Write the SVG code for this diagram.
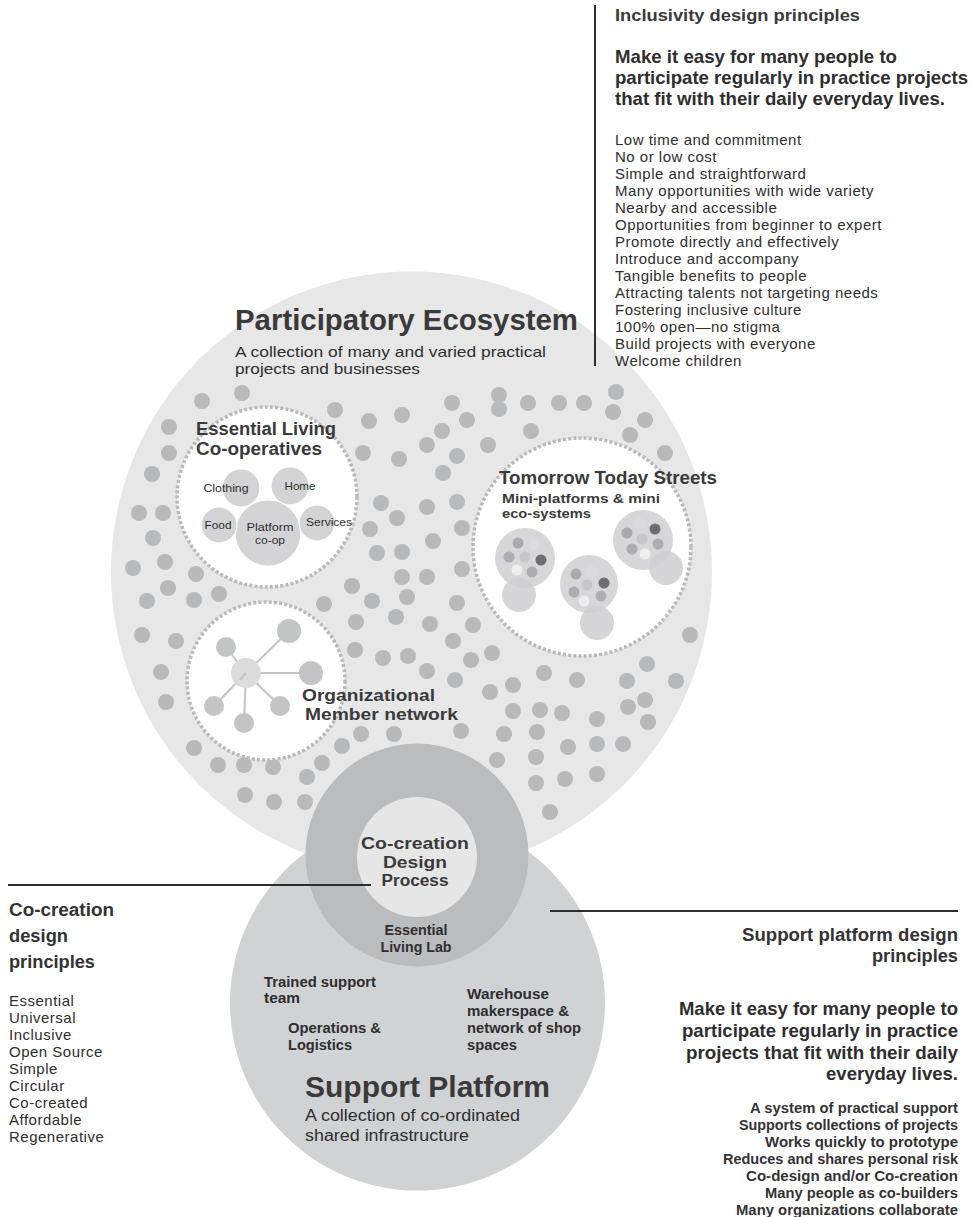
<svg xmlns="http://www.w3.org/2000/svg" width="972" height="1217" viewBox="0 0 972 1217">
  <style>
    .side { font-family: "Liberation Sans", Arial, sans-serif; fill: #2e2e2e; }
    .list { font-size: 15px; letter-spacing: 0.5px; }
    .lbl { font-family: "Liberation Sans", Arial, sans-serif; font-weight: bold; fill: #3a3a3a; }
    .dot { fill: #b8b9bb; }
    .zone { fill: #ffffff; stroke: #b8b9bb; stroke-width: 3.5; stroke-dasharray: 3 2.2; }
    .sub { fill: #d4d4d6; stroke: #ffffff; stroke-width: 1.2; }
    .bead { fill: #d7d7d9; }
    .bead2 { fill: #cfcfd1; fill-opacity: 0.85; }
    .rule { stroke: #2e2e2e; stroke-width: 2; fill: none; }
    .spoke { stroke: #c3c4c6; stroke-width: 2; }
    .mem { fill: #c3c4c6; }
  </style>

  <!-- outer ecosystem disc -->
  <g id="ecosystem">
    <circle cx="411.5" cy="572" r="300.5" fill="#e7e7e8"/>
    <text class="lbl" x="235" y="330" font-size="30" textLength="343" lengthAdjust="spacingAndGlyphs">Participatory Ecosystem</text>
    <text class="side" x="235" y="357" font-size="15" fill="#3a3a3a" textLength="311" lengthAdjust="spacingAndGlyphs">A collection of many and varied practical</text>
    <text class="side" x="235" y="374" font-size="15" fill="#3a3a3a" textLength="185" lengthAdjust="spacingAndGlyphs">projects and businesses</text>
  </g>

  <!-- scattered project dots -->
  <g id="project-dots">
    <circle class="dot" cx="202" cy="401" r="8"/><circle class="dot" cx="242" cy="393" r="8"/>
    <circle class="dot" cx="335" cy="410" r="8"/><circle class="dot" cx="369" cy="421" r="8"/>
    <circle class="dot" cx="169" cy="427" r="8"/><circle class="dot" cx="169" cy="453" r="8"/>
    <circle class="dot" cx="363" cy="453" r="8"/><circle class="dot" cx="152" cy="474" r="8"/>
    <circle class="dot" cx="139" cy="513" r="8"/><circle class="dot" cx="163" cy="513" r="8"/>
    <circle class="dot" cx="153" cy="538" r="8"/><circle class="dot" cx="381" cy="503" r="8"/>
    <circle class="dot" cx="370" cy="529" r="8"/><circle class="dot" cx="377" cy="553" r="8"/>
    <circle class="dot" cx="133" cy="568" r="8"/><circle class="dot" cx="165" cy="562" r="8"/>
    <circle class="dot" cx="196" cy="574" r="8"/><circle class="dot" cx="168" cy="588" r="8"/>
    <circle class="dot" cx="147" cy="601" r="8"/><circle class="dot" cx="194" cy="600" r="8"/>
    <circle class="dot" cx="219" cy="594" r="8"/><circle class="dot" cx="352" cy="586" r="8"/>
    <circle class="dot" cx="372" cy="601" r="8"/><circle class="dot" cx="324" cy="604" r="8"/>
    <circle class="dot" cx="356" cy="622" r="8"/><circle class="dot" cx="355" cy="650" r="8"/>
    <circle class="dot" cx="383" cy="658" r="8"/><circle class="dot" cx="142" cy="635" r="8"/>
    <circle class="dot" cx="176" cy="641" r="8"/><circle class="dot" cx="161" cy="672" r="8"/>
    <circle class="dot" cx="166" cy="702" r="8"/><circle class="dot" cx="194" cy="748" r="8"/>
    <circle class="dot" cx="218" cy="765" r="8"/><circle class="dot" cx="244" cy="765" r="8"/>
    <circle class="dot" cx="273" cy="767" r="8"/><circle class="dot" cx="307" cy="777" r="8"/>
    <circle class="dot" cx="322" cy="763" r="8"/><circle class="dot" cx="342" cy="746" r="8"/>
    <circle class="dot" cx="361" cy="734" r="8"/><circle class="dot" cx="394" cy="734" r="8"/>
    <circle class="dot" cx="245" cy="795" r="8"/><circle class="dot" cx="274" cy="802" r="8"/>
    <circle class="dot" cx="305" cy="802" r="8"/>
    <circle class="dot" cx="402" cy="415" r="8"/><circle class="dot" cx="452" cy="403" r="8"/>
    <circle class="dot" cx="499" cy="395" r="8"/><circle class="dot" cx="499" cy="409" r="8"/>
    <circle class="dot" cx="528" cy="403" r="8"/><circle class="dot" cx="559" cy="403" r="8"/>
    <circle class="dot" cx="584" cy="403" r="8"/><circle class="dot" cx="616" cy="392" r="8"/>
    <circle class="dot" cx="613" cy="412" r="8"/><circle class="dot" cx="645" cy="420" r="8"/>
    <circle class="dot" cx="630" cy="435" r="8"/><circle class="dot" cx="665" cy="453" r="8"/>
    <circle class="dot" cx="442" cy="431" r="8"/><circle class="dot" cx="467" cy="420" r="8"/>
    <circle class="dot" cx="427" cy="445" r="8"/><circle class="dot" cx="488" cy="445" r="8"/>
    <circle class="dot" cx="531" cy="431" r="8"/><circle class="dot" cx="399" cy="459" r="8"/>
    <circle class="dot" cx="457" cy="456" r="8"/><circle class="dot" cx="443" cy="473" r="8"/>
    <circle class="dot" cx="427" cy="507" r="8"/><circle class="dot" cx="457" cy="502" r="8"/>
    <circle class="dot" cx="397" cy="518" r="8"/><circle class="dot" cx="462" cy="528" r="8"/>
    <circle class="dot" cx="433" cy="541" r="8"/><circle class="dot" cx="402" cy="552" r="8"/>
    <circle class="dot" cx="462" cy="569" r="8"/><circle class="dot" cx="402" cy="577" r="8"/>
    <circle class="dot" cx="427" cy="577" r="8"/><circle class="dot" cx="407" cy="597" r="8"/>
    <circle class="dot" cx="457" cy="603" r="8"/><circle class="dot" cx="396" cy="617" r="8"/>
    <circle class="dot" cx="430" cy="624" r="8"/><circle class="dot" cx="473" cy="625" r="8"/>
    <circle class="dot" cx="453" cy="641" r="8"/><circle class="dot" cx="408" cy="656" r="8"/>
    <circle class="dot" cx="492" cy="653" r="8"/><circle class="dot" cx="471" cy="660" r="8"/>
    <circle class="dot" cx="427" cy="671" r="8"/><circle class="dot" cx="455" cy="680" r="8"/>
    <circle class="dot" cx="490" cy="692" r="8"/><circle class="dot" cx="513" cy="685" r="8"/>
    <circle class="dot" cx="544" cy="673" r="8"/><circle class="dot" cx="577" cy="680" r="8"/>
    <circle class="dot" cx="690" cy="635" r="8"/><circle class="dot" cx="647" cy="664" r="8"/>
    <circle class="dot" cx="627" cy="681" r="8"/><circle class="dot" cx="676" cy="681" r="8"/>
    <circle class="dot" cx="513" cy="711" r="8"/><circle class="dot" cx="540" cy="710" r="8"/>
    <circle class="dot" cx="562" cy="713" r="8"/><circle class="dot" cx="597" cy="719" r="8"/>
    <circle class="dot" cx="628" cy="707" r="8"/><circle class="dot" cx="645" cy="700" r="8"/>
    <circle class="dot" cx="648" cy="722" r="8"/><circle class="dot" cx="461" cy="731" r="8"/>
    <circle class="dot" cx="504" cy="734" r="8"/><circle class="dot" cx="537" cy="732" r="8"/>
    <circle class="dot" cx="568" cy="747" r="8"/><circle class="dot" cx="597" cy="744" r="8"/>
    <circle class="dot" cx="623" cy="744" r="8"/><circle class="dot" cx="497" cy="760" r="8"/>
    <circle class="dot" cx="536" cy="757" r="8"/><circle class="dot" cx="565" cy="779" r="8"/>
    <circle class="dot" cx="597" cy="774" r="8"/><circle class="dot" cx="536" cy="783" r="8"/>
    <circle class="dot" cx="550" cy="812" r="8"/>
  </g>

  <!-- Essential Living Co-operatives -->
  <g id="essential-living">
    <circle class="zone" cx="267" cy="497" r="90"/>
    <circle class="sub" cx="268" cy="533" r="33"/>
    <circle class="sub" cx="241" cy="488" r="19"/>
    <circle class="sub" cx="290" cy="486" r="19"/>
    <circle class="sub" cx="219" cy="525" r="18"/>
    <circle class="sub" cx="317" cy="523" r="18"/>
    <text class="lbl" x="196" y="435" font-size="17.5" textLength="140" lengthAdjust="spacingAndGlyphs">Essential Living</text>
    <text class="lbl" x="196" y="455" font-size="17.5" textLength="126" lengthAdjust="spacingAndGlyphs">Co-operatives</text>
    <g class="side" font-size="11" text-anchor="middle" fill="#333">
      <text x="226" y="492" textLength="45" lengthAdjust="spacingAndGlyphs">Clothing</text>
      <text x="300" y="490" textLength="31" lengthAdjust="spacingAndGlyphs">Home</text>
      <text x="218" y="529" textLength="27" lengthAdjust="spacingAndGlyphs">Food</text>
      <text x="329" y="526" textLength="46" lengthAdjust="spacingAndGlyphs">Services</text>
      <text x="270" y="531" textLength="47" lengthAdjust="spacingAndGlyphs">Platform</text>
      <text x="270" y="544" textLength="30" lengthAdjust="spacingAndGlyphs">co-op</text>
    </g>
  </g>

  <!-- Tomorrow Today Streets -->
  <g id="tomorrow-today-streets">
    <circle class="zone" cx="582" cy="547" r="109"/>
    <text class="lbl" x="499" y="484" font-size="17.5" textLength="218" lengthAdjust="spacingAndGlyphs">Tomorrow Today Streets</text>
    <text class="lbl" x="502" y="503" font-size="13.5" textLength="158" lengthAdjust="spacingAndGlyphs">Mini-platforms &amp; mini</text>
    <text class="lbl" x="502" y="518" font-size="13.5" textLength="89" lengthAdjust="spacingAndGlyphs">eco-systems</text>
    <!-- mini platform 1 -->
    <circle class="bead" cx="525" cy="558" r="30"/>
    <circle cx="518" cy="543" r="5.5" fill="#a9aaac"/><circle cx="534" cy="545" r="5.5" fill="#dcdcdd"/>
    <circle cx="509" cy="557" r="5.5" fill="#adaeb0"/><circle cx="525" cy="557" r="5.5" fill="#c6c6c8"/>
    <circle cx="541" cy="560" r="5.5" fill="#6e6f71"/><circle cx="517" cy="570" r="5.5" fill="#eeeeee"/>
    <circle cx="532" cy="572" r="5.5" fill="#adaeb0"/>
    <circle class="bead2" cx="519" cy="595" r="17"/>
    <!-- mini platform 2 -->
    <circle class="bead" cx="589" cy="584" r="29"/>
    <circle cx="576" cy="574" r="5.5" fill="#a9aaac"/><circle cx="592" cy="572" r="5.5" fill="#dcdcdd"/>
    <circle cx="574" cy="592" r="5.5" fill="#adaeb0"/><circle cx="587" cy="585" r="5.5" fill="#c6c6c8"/>
    <circle cx="604" cy="583" r="5.5" fill="#6e6f71"/><circle cx="584" cy="601" r="5.5" fill="#eeeeee"/>
    <circle cx="601" cy="596" r="5.5" fill="#adaeb0"/>
    <circle class="bead2" cx="597" cy="623" r="17"/>
    <!-- mini platform 3 -->
    <circle class="bead" cx="643" cy="540" r="30"/>
    <circle cx="640" cy="524" r="5.5" fill="#dcdcdd"/><circle cx="655" cy="529" r="5.5" fill="#6e6f71"/>
    <circle cx="627" cy="533" r="5.5" fill="#a9aaac"/><circle cx="642" cy="539" r="5.5" fill="#c6c6c8"/>
    <circle cx="658" cy="544" r="5.5" fill="#adaeb0"/><circle cx="632" cy="549" r="5.5" fill="#adaeb0"/>
    <circle cx="645" cy="554" r="5.5" fill="#eeeeee"/>
    <circle class="bead2" cx="666" cy="568" r="17"/>
  </g>

  <!-- Organizational Member network -->
  <g id="member-network">
    <circle class="zone" cx="266" cy="681" r="79"/>
    <g class="spoke">
      <line x1="246" y1="673" x2="289" y2="631"/>
      <line x1="246" y1="673" x2="226" y2="647"/>
      <line x1="246" y1="673" x2="311" y2="673"/>
      <line x1="246" y1="673" x2="214" y2="706"/>
      <line x1="246" y1="673" x2="280" y2="706"/>
      <line x1="246" y1="673" x2="244" y2="723"/>
    </g>
    <circle cx="246" cy="673" r="15" fill="#dcdcdd"/>
    <g class="spoke"><line x1="246" y1="673" x2="240" y2="680"/></g>
    <circle class="mem" cx="289" cy="631" r="12"/>
    <circle class="mem" cx="226" cy="647" r="10"/>
    <circle class="mem" cx="311" cy="673" r="12"/>
    <circle class="mem" cx="214" cy="706" r="10"/>
    <circle class="mem" cx="280" cy="706" r="10"/>
    <circle class="mem" cx="244" cy="723" r="10"/>
    <text class="lbl" x="302" y="701" font-size="16.5" textLength="133" lengthAdjust="spacingAndGlyphs">Organizational</text>
    <text class="lbl" x="305" y="720" font-size="16.5" textLength="153" lengthAdjust="spacingAndGlyphs">Member network</text>
  </g>

  <!-- Support Platform disc -->
  <g id="support-platform">
    <circle cx="417.5" cy="1003" r="187.5" fill="#d1d2d4"/>
    <g class="side" font-size="14.5" font-weight="bold" fill="#3f3f3f">
      <text x="264" y="987" textLength="112" lengthAdjust="spacingAndGlyphs">Trained support</text>
      <text x="264" y="1003" textLength="36" lengthAdjust="spacingAndGlyphs">team</text>
      <text x="288" y="1033" textLength="93" lengthAdjust="spacingAndGlyphs">Operations &amp;</text>
      <text x="288" y="1050" textLength="64" lengthAdjust="spacingAndGlyphs">Logistics</text>
      <text x="467" y="999" textLength="82" lengthAdjust="spacingAndGlyphs">Warehouse</text>
      <text x="467" y="1016" textLength="102" lengthAdjust="spacingAndGlyphs">makerspace &amp;</text>
      <text x="467" y="1033" textLength="114" lengthAdjust="spacingAndGlyphs">network of shop</text>
      <text x="467" y="1050" textLength="50" lengthAdjust="spacingAndGlyphs">spaces</text>
    </g>
    <text class="lbl" x="305" y="1097" font-size="30" textLength="245" lengthAdjust="spacingAndGlyphs">Support Platform</text>
    <text class="side" x="305" y="1121" font-size="16" fill="#3a3a3a" textLength="215" lengthAdjust="spacingAndGlyphs">A collection of co-ordinated</text>
    <text class="side" x="305" y="1141" font-size="16" fill="#3a3a3a" textLength="164" lengthAdjust="spacingAndGlyphs">shared infrastructure</text>
  </g>

  <!-- Essential Living Lab ring with the co-creation core -->
  <g id="living-lab">
    <circle cx="417" cy="855" r="111.5" fill="#bbbcbe"/>
    <circle cx="417" cy="857" r="60" fill="#e6e6e7"/>
    <g class="lbl" font-size="16" text-anchor="middle">
      <text x="415" y="849" textLength="108" lengthAdjust="spacingAndGlyphs">Co-creation</text>
      <text x="415" y="868" textLength="64" lengthAdjust="spacingAndGlyphs">Design</text>
      <text x="415" y="886" textLength="67" lengthAdjust="spacingAndGlyphs">Process</text>
    </g>
    <g class="side" font-size="14.5" font-weight="bold" text-anchor="middle" fill="#444">
      <text x="416" y="935" textLength="63" lengthAdjust="spacingAndGlyphs">Essential</text>
      <text x="416" y="952" textLength="71" lengthAdjust="spacingAndGlyphs">Living Lab</text>
    </g>
  </g>

  <!-- callout rules -->
  <g id="connectors">
    <line class="rule" x1="595" y1="5" x2="595" y2="366"/>
    <line class="rule" x1="8" y1="885" x2="371" y2="885"/>
    <line class="rule" x1="550" y1="911" x2="958" y2="911"/>
  </g>

  <!-- Inclusivity design principles -->
  <g id="inclusivity-principles" class="side">
    <text x="615" y="21" font-size="17" font-weight="bold" fill="#3a3a3a" textLength="245" lengthAdjust="spacingAndGlyphs">Inclusivity design principles</text>
    <g font-size="18.5" font-weight="bold">
      <text x="615" y="63" textLength="282" lengthAdjust="spacingAndGlyphs">Make it easy for many people to</text>
      <text x="615" y="84" textLength="353" lengthAdjust="spacingAndGlyphs">participate regularly in practice projects</text>
      <text x="615" y="105" textLength="330" lengthAdjust="spacingAndGlyphs">that fit with their daily everyday lives.</text>
    </g>
    <g class="list">
      <text x="615" y="145">Low time and commitment</text>
      <text x="615" y="162">No or low cost</text>
      <text x="615" y="179">Simple and straightforward</text>
      <text x="615" y="196">Many opportunities with wide variety</text>
      <text x="615" y="213">Nearby and accessible</text>
      <text x="615" y="230">Opportunities from beginner to expert</text>
      <text x="615" y="247">Promote directly and effectively</text>
      <text x="615" y="264">Introduce and accompany</text>
      <text x="615" y="281">Tangible benefits to people</text>
      <text x="615" y="298">Attracting talents not targeting needs</text>
      <text x="615" y="315">Fostering inclusive culture</text>
      <text x="615" y="332">100% open—no stigma</text>
      <text x="615" y="349">Build projects with everyone</text>
      <text x="615" y="366">Welcome children</text>
    </g>
  </g>

  <!-- Co-creation design principles -->
  <g id="cocreation-principles" class="side">
    <g font-size="18" font-weight="bold" fill="#333">
      <text x="9" y="916" textLength="105" lengthAdjust="spacingAndGlyphs">Co-creation</text>
      <text x="9" y="942" textLength="59" lengthAdjust="spacingAndGlyphs">design</text>
      <text x="9" y="968" textLength="86" lengthAdjust="spacingAndGlyphs">principles</text>
    </g>
    <g class="list">
      <text x="9" y="1006">Essential</text>
      <text x="9" y="1023">Universal</text>
      <text x="9" y="1040">Inclusive</text>
      <text x="9" y="1057">Open Source</text>
      <text x="9" y="1074">Simple</text>
      <text x="9" y="1091">Circular</text>
      <text x="9" y="1108">Co-created</text>
      <text x="9" y="1125">Affordable</text>
      <text x="9" y="1142">Regenerative</text>
    </g>
  </g>

  <!-- Support platform design principles -->
  <g id="support-principles" class="side" text-anchor="end">
    <g font-size="18" font-weight="bold" fill="#333">
      <text x="958" y="941" textLength="216" lengthAdjust="spacingAndGlyphs">Support platform design</text>
      <text x="958" y="962" textLength="86" lengthAdjust="spacingAndGlyphs">principles</text>
    </g>
    <g font-size="18.5" font-weight="bold">
      <text x="958" y="1015" textLength="279" lengthAdjust="spacingAndGlyphs">Make it easy for many people to</text>
      <text x="958" y="1037" textLength="276" lengthAdjust="spacingAndGlyphs">participate regularly in practice</text>
      <text x="958" y="1059" textLength="272" lengthAdjust="spacingAndGlyphs">projects that fit with their daily</text>
      <text x="958" y="1080" textLength="132" lengthAdjust="spacingAndGlyphs">everyday lives.</text>
    </g>
    <g font-size="13.8" font-weight="bold" fill="#333">
      <text x="958" y="1113" textLength="208" lengthAdjust="spacingAndGlyphs">A system of practical support</text>
      <text x="958" y="1130" textLength="219" lengthAdjust="spacingAndGlyphs">Supports collections of projects</text>
      <text x="958" y="1147" textLength="193" lengthAdjust="spacingAndGlyphs">Works quickly to prototype</text>
      <text x="958" y="1164" textLength="235" lengthAdjust="spacingAndGlyphs">Reduces and shares personal risk</text>
      <text x="958" y="1181" textLength="212" lengthAdjust="spacingAndGlyphs">Co-design and/or Co-creation</text>
      <text x="958" y="1198" textLength="193" lengthAdjust="spacingAndGlyphs">Many people as co-builders</text>
      <text x="958" y="1215" textLength="222" lengthAdjust="spacingAndGlyphs">Many organizations collaborate</text>
    </g>
  </g>
</svg>
